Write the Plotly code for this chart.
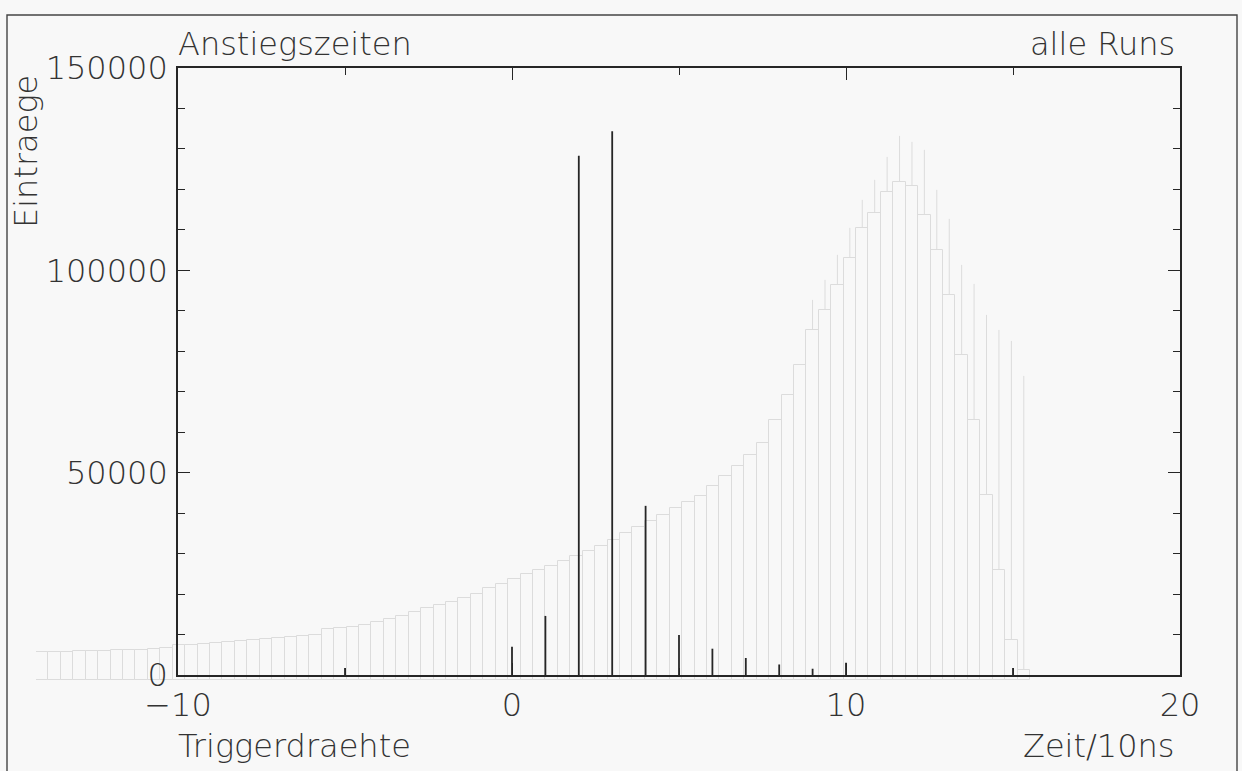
import plotly.graph_objects as go

# ---------------- main histogram (Anstiegszeiten) ----------------
zeit = [-5, 0, 1, 2, 3, 4, 5, 6, 7, 8, 9, 10, 15]
eintraege = [1700, 7000, 14600, 128300, 134400, 41800, 9900, 6500, 4200, 2600, 1550, 3000, 1700]

x_ticks = [-10, 0, 10, 20]
y_ticks = [0, 50000, 100000, 150000]

# ---------------- faint bleed-through histogram from the back page ----------------
ghost_centers = [40 - 0.25 - 0.5 * i for i in range(80)]
ghost_outline = [694, 694, 694, 719, 719, 719, 744, 744, 744, 769,
                 794, 868, 868, 893, 918, 942, 967, 992, 1017, 1042,
                 1066, 1091, 1116, 1265, 1290, 1314, 1364, 1438, 1513, 1587,
                 1686, 1786, 1860, 1934, 2034, 2133, 2282, 2381, 2505, 2629,
                 2728, 2827, 2951, 3075, 3199, 3323, 3472, 3646, 3794, 3943,
                 4092, 4266, 4414, 4563, 4811, 5059, 5307, 5580, 5878, 6448,
                 7068, 7812, 8680, 9176, 9796, 10466, 11210, 11582, 12102, 12350,
                 12251, 11532, 10664, 9548, 8060, 6448, 4588, 2728, 992, 248]
ghost_whisker = [0] * 62 + [9424, 9920, 10540, 11210, 11904, 12400, 12970, 13490,
                            13342, 13144, 12152, 11433, 10292, 9821, 9052, 8680, 8407, 7539]

W, H = 1242, 771
INK = "#262626"
GHOST = "#dcdcdc"
FONT = "DejaVu Sans"

def px(x):
    return x / W

def py(y):
    return 1 - y / H

ghost_err = [max(w - o, 0) for w, o in zip(ghost_whisker, ghost_outline)]

fig = go.Figure()

fig.add_trace(go.Bar(
    x=ghost_centers, y=ghost_outline, width=0.5,
    marker=dict(color="rgba(0,0,0,0)", line=dict(color=GHOST, width=1)),
    error_y=dict(type="data", array=ghost_err, arrayminus=[0] * 80, symmetric=False,
                 width=0, thickness=1, color=GHOST),
    xaxis="x", yaxis="y", showlegend=False, hoverinfo="skip",
))

# spikes of the histogram: one vertical stroke per filled channel, from 0 to its count
spike_x, spike_y = [], []
for xv, yv in zip(zeit, eintraege):
    spike_x += [xv, xv, None]
    spike_y += [0, yv, None]

fig.add_trace(go.Scatter(
    x=spike_x, y=spike_y, mode="lines",
    line=dict(color=INK, width=1.8),
    xaxis="x2", yaxis="y2", showlegend=False, hoverinfo="skip",
))

axis_font = dict(family=FONT, size=32, color="#333333", weight=200)

fig.update_layout(
    width=W, height=H, autosize=False,
    margin=dict(l=0, r=0, t=0, b=0, pad=0, autoexpand=False),
    paper_bgcolor="#f8f8f8",
    plot_bgcolor="rgba(0,0,0,0)",
    bargap=0,
    barmode="overlay",
    xaxis=dict(domain=[px(36), px(1030)], range=[40, 0], visible=False, fixedrange=True, automargin=False),
    yaxis=dict(domain=[py(680), py(75)], range=[0, 15000], visible=False, fixedrange=True, automargin=False),
    xaxis2=dict(
        domain=[px(178), px(1180)], range=[-10, 20], anchor="y2", automargin=False,
        tickvals=x_ticks, ticks="inside", ticklen=12, tickwidth=1.3, tickcolor=INK,
        minor=dict(dtick=5, ticks="inside", ticklen=7, tickwidth=1.3, tickcolor=INK),
        showline=True, linecolor=INK, linewidth=1.6, mirror="ticks",
        showgrid=False, zeroline=False, tickfont=axis_font, ticklabelstandoff=1,
    ),
    yaxis2=dict(
        domain=[py(675), py(68)], range=[0, 150000], anchor="x2", automargin=False,
        tickvals=y_ticks, tickformat="d", ticks="inside", ticklen=12, tickwidth=1.3, tickcolor=INK,
        minor=dict(dtick=10000, ticks="inside", ticklen=7, tickwidth=1.3, tickcolor=INK),
        showline=True, linecolor=INK, linewidth=1.6, mirror="ticks",
        showgrid=False, zeroline=False, tickfont=axis_font, ticklabelstandoff=2,
    ),
    font=dict(family=FONT, color="#333333"),
)

txt_font = dict(family=FONT, size=32, color="#333333", weight=200)
fig.add_annotation(text="Anstiegszeiten", x=px(176), y=py(44), xref="paper", yref="paper",
                   xanchor="left", yanchor="middle", showarrow=False, font=txt_font)
fig.add_annotation(text="alle Runs", x=px(1177), y=py(44), xref="paper", yref="paper",
                   xanchor="right", yanchor="middle", showarrow=False, font=txt_font)
fig.add_annotation(text="Eintraege", x=px(26), y=py(152), xref="paper", yref="paper",
                   xanchor="center", yanchor="middle", textangle=-90, showarrow=False, font=txt_font)
fig.add_annotation(text="Triggerdraehte", x=px(176), y=py(746), xref="paper", yref="paper",
                   xanchor="left", yanchor="middle", showarrow=False, font=txt_font)
fig.add_annotation(text="Zeit/10ns", x=px(1177), y=py(746), xref="paper", yref="paper",
                   xanchor="right", yanchor="middle", showarrow=False, font=txt_font)

# outer frame of the printed page
fig.add_shape(type="rect", xref="paper", yref="paper",
              x0=px(7), x1=px(1237), y0=-0.02, y1=py(15),
              line=dict(color="#444444", width=1.4), fillcolor="rgba(0,0,0,0)", layer="below")

fig.write_html("out.html", config={"responsive": False, "displayModeBar": False},
               post_script="document.body.style.margin='0';document.body.style.padding='0';"
                           "document.body.style.overflow='hidden';")
